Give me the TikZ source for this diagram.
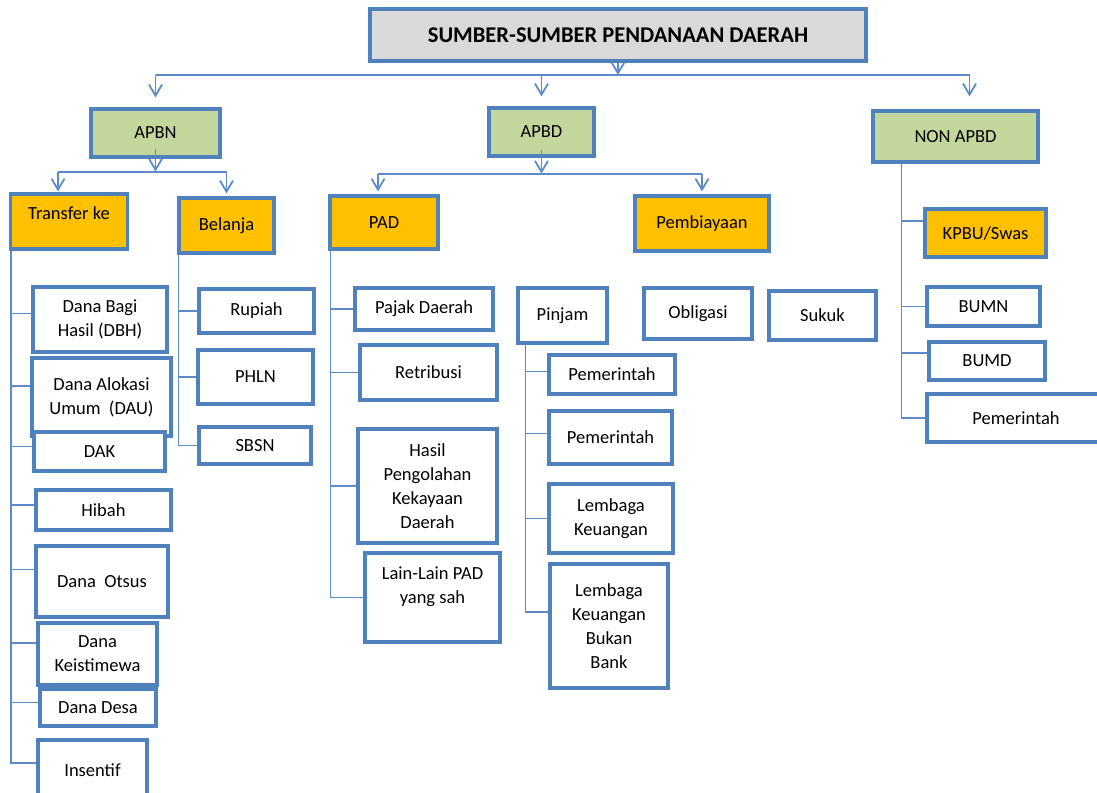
\documentclass[tikz,border=0pt]{standalone}
\usepackage{fontspec}
\setmainfont{Carlito}
\usetikzlibrary{arrows.meta,positioning,calc}
\definecolor{edge}{HTML}{4F81BD}
\definecolor{wire}{HTML}{5B8BC8}
\definecolor{headbg}{HTML}{D9D9D9}
\definecolor{srcbg}{HTML}{C3D69B}
\definecolor{grpbg}{HTML}{FFC000}

\begin{document}
\begin{tikzpicture}[x=1pt, y=-1pt,
  box/.style={draw=edge, line width=3.2pt, fill=white, align=center, inner sep=0pt,
              font=\fontsize{18.5}{24}\selectfont},
  srcbox/.style={box, fill=srcbg},
  grpbox/.style={box, fill=grpbg},
  wh/.style 2 args={minimum width=#1pt, minimum height=#2pt},
  link/.style={draw=wire, line width=1.8pt},
  arr/.style={link, -{Straight Barb[length=11pt,width=13pt]}}]

\useasboundingbox (0,0) rectangle (1097,792);

% top levels
\node[box, fill=headbg, wh={496}{52}, font=\bfseries\fontsize{22.5}{27}\selectfont] (title) at (618,35)
  {SUMBER-SUMBER PENDANAAN DAERAH};
\node[srcbox, wh={129}{48}] (apbn) at (155.5,133) {APBN};
\node[srcbox, wh={105}{48}] (apbd) at (541.5,132) {APBD};
\node[srcbox, wh={165}{51}] (nonapbd) at (955.5,136.5) {NON APBD};

\node[grpbox, wh={117}{55}, text depth=17pt] (transfer) at (69,221.5) {Transfer ke};
\node[grpbox, wh={95}{55}] (belanja) at (226.5,225.5) {Belanja};
\node[grpbox, wh={108}{53}] (pad) at (384,222.5) {PAD};
\node[grpbox, wh={134}{55}] (biaya) at (702,223.5) {Pembiayaan};
\node[grpbox, wh={121}{48}] (kpbu) at (985.5,233) {KPBU/Swas};

% transfer ke
\node[box, wh={134}{65}] (dbh) at (100,319.5) {Dana Bagi\\Hasil (DBH)};
\node[box, wh={139}{78}] (dau) at (101.5,397) {Dana Alokasi\\Umum\ \ (DAU)};
\node[box, wh={131}{39}] (dak) at (99.5,451.5) {DAK};
\node[box, wh={135}{40}] (hibah) at (103.5,510) {Hibah};
\node[box, wh={132}{71}] (otsus) at (102,581.5) {Dana\ \ Otsus};
\node[box, wh={119}{62}] (keis) at (97.5,654) {Dana\\Keistimewa};
\node[box, wh={116}{37}] (desa) at (98,707.5) {Dana Desa};
\node[box, wh={109}{60}] (insentif) at (92.5,770) {Insentif};

% belanja
\node[box, wh={115}{44}] (rupiah) at (256.5,311) {Rupiah};
\node[box, wh={115}{54}] (phln) at (255.5,377) {PHLN};
\node[box, wh={112}{37}] (sbsn) at (255,445.5) {SBSN};

% pad
\node[box, wh={138}{42}] (pajak) at (424,309) {Pajak Daerah};
\node[box, wh={137}{55}] (retri) at (428.5,372.5) {Retribusi};
\node[box, wh={139}{114}] (hasil) at (427.5,486) {Hasil\\Pengolahan\\Kekayaan\\Daerah};
\node[box, wh={135}{89}] (lain) at (432.5,597.5) {Lain-Lain PAD\\yang sah\\\mbox{}};

% pembiayaan
\node[box, wh={89}{55}] (pinjam) at (562.5,315.5) {Pinjam};
\node[box, wh={126}{39}] (pem1) at (612,374.5) {Pemerintah};
\node[box, wh={123}{53}] (pem2) at (610.5,437.5) {Pemerintah};
\node[box, wh={124}{69}] (lk) at (611,518.5) {Lembaga\\Keuangan};
\node[box, wh={118}{124}] (lkbb) at (609,626) {Lembaga\\Keuangan\\Bukan\\Bank};
\node[box, wh={108}{51}] (obligasi) at (698,313.5) {Obligasi};
\node[box, wh={107}{49}] (sukuk) at (822.5,315.5) {Sukuk};

% non apbd
\node[box, wh={113}{39}] (bumn) at (983.5,306.5) {BUMN};
\node[box, wh={116}{38}] (bumd) at (987,361) {BUMD};
\node[box, wh={178}{48}] (pem3) at (1016,418) {Pemerintah};

% arrows from the title
\coordinate (bus) at (618,75);
\coordinate (nx) at ([xshift=14pt]nonapbd.north);
\draw[arr] (title.south) -- (bus);
\draw[link] (apbn.north |- bus) -- (nx |- bus);
\foreach \n in {apbn, apbd}
  \draw[arr, shorten >=10pt] (\n.north |- bus) -- (\n.north);
\draw[arr, shorten >=13pt] (nx |- bus) -- (nx);

% apbn split
\coordinate (busa) at ([yshift=-13pt]apbn.south);
\coordinate (ta) at ([xshift=-11pt]transfer.north);
\draw[arr] ([yshift=10pt]apbn.south) -- (busa);
\draw[link] (ta |- busa) -- (belanja.north |- busa);
\draw[arr, shorten >=1pt] (ta |- busa) -- (ta);
\draw[arr, shorten >=3pt] (belanja.north |- busa) -- (belanja.north);

% apbd split
\coordinate (busb) at ([yshift=-16pt]apbd.south);
\coordinate (pa) at ([xshift=-6pt]pad.north);
\draw[arr] ([yshift=8pt]apbd.south) -- (busb);
\draw[link] (pa |- busb) -- (biaya.north |- busb);
\draw[arr, shorten >=3pt] (pa |- busb) -- (pa);
\draw[arr, shorten >=3pt] (biaya.north |- busb) -- (biaya.north);

% trunk under transfer ke
\coordinate (ta0) at ([xshift=2pt]transfer.south west);
\path ([yshift=7pt]insentif.west) coordinate (ti);
\draw[link] (ta0) |- (ti);
\foreach \n/\s in {dbh/6, dau/11, dak/5, hibah/5, otsus/12, keis/11, desa/5} {
  \path ([yshift=\s pt]\n.west) coordinate (t);
  \draw[link] (ta0 |- t) -- (t);
}

% trunk under belanja
\coordinate (tb0) at ([xshift=1pt]belanja.south west);
\draw[link] (tb0) |- (sbsn.west);
\foreach \n in {rupiah, phln}
  \draw[link] (tb0 |- \n.west) -- (\n.west);

% trunk under pad
\coordinate (tc0) at ([xshift=2pt]pad.south west);
\draw[link] (tc0) |- (lain.west);
\foreach \n in {pajak, retri, hasil}
  \draw[link] (tc0 |- \n.west) -- (\n.west);

% trunk under pinjam
\coordinate (td0) at ([xshift=9pt]pinjam.south west);
\path ([yshift=14pt]lkbb.west) coordinate (td1);
\draw[link] (td0) |- (td1);
\foreach \n/\s in {pem1/3, pem2/4, lk/0} {
  \path ([yshift=\s pt]\n.west) coordinate (t);
  \draw[link] (td0 |- t) -- (t);
}

% trunk under non apbd
\coordinate (te0) at ([xshift=30pt]nonapbd.south west);
\draw[link] (te0) |- (pem3.west);
\foreach \n/\s in {kpbu/12, bumn/0, bumd/8} {
  \path ([yshift=\s pt]\n.west) coordinate (t);
  \draw[link] (te0 |- t) -- (t);
}
\end{tikzpicture}
\end{document}
